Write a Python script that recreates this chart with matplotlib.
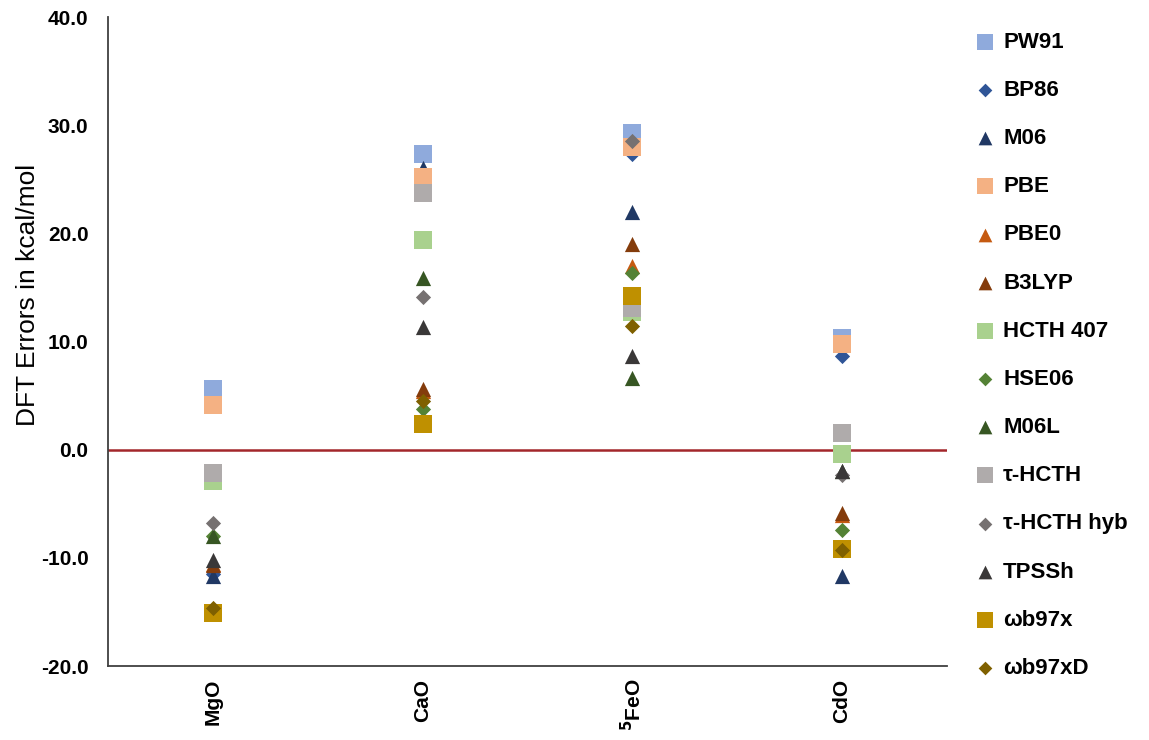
import matplotlib.pyplot as plt
import numpy as np

plt.rcParams['font.family'] = ['Liberation Sans', 'DejaVu Sans']

# compounds on the x axis
compounds = ['MgO', 'CaO', '$\\mathbf{^{5}}$FeO', 'CdO']

# functionals (legend order)
methods = ['PW91', 'BP86', 'M06', 'PBE', 'PBE0', 'B3LYP', 'HCTH 407', 'HSE06',
           'M06L', 'τ-HCTH', 'τ-HCTH hyb', 'TPSSh', 'ωb97x', 'ωb97xD']
markers = ['s', 'D', '^', 's', '^', '^', 's', 'D', '^', 's', 'D', '^', 's', 'D']
colors = ['#8FAADC', '#2F5597', '#203864', '#F4B183', '#C55A11', '#843C0C',
          '#A9D18E', '#548235', '#375623', '#AFABAB', '#767171', '#3A3838',
          '#BF9000', '#7F6000']

# DFT errors (kcal/mol), one value per method in the order above
mgo = [5.6, -11.5, -11.7, 4.1, -10.6, -10.7, -2.9, -8.0, -8.0, -2.2, -6.8, -10.2, -15.1, -14.6]
cao = [27.3, 25.5, 26.0, 25.2, 5.4, 5.6, 19.4, 3.8, 15.9, 23.7, 14.1, 11.3, 2.4, 4.5]
feo = [29.3, 27.3, 22.0, 28.0, 17.0, 19.0, 12.7, 16.3, 6.6, 13.1, 28.5, 8.7, 14.2, 11.4]
cdo = [10.3, 8.7, -11.7, 9.8, -6.0, -5.9, -0.4, -7.4, -2.0, 1.5, -2.3, -2.0, -9.2, -9.3]

values = np.array([mgo, cao, feo, cdo])
x = np.arange(len(compounds))

fig = plt.figure(figsize=(11.49, 7.40), dpi=100)
ax = fig.add_axes([0.094, 0.10, 0.730, 0.877])

for i, m in enumerate(methods):
    size = 150 if markers[i] == 's' else (120 if markers[i] == '^' else 60)
    ax.scatter(x, values[:, i], marker=markers[i], s=size, color=colors[i],
               linewidths=0, label=m, zorder=3 + i)

ax.axhline(0, color='#A3262B', lw=1.8, zorder=2)

ax.set_xlim(-0.5, 3.5)
ax.set_ylim(-20, 40)
yt = np.arange(-20, 41, 10)
ax.set_yticks(yt)
ax.set_yticklabels([f'{v:.1f}' for v in yt], fontsize=15, fontweight='bold')
ax.set_xticks(x)
ax.set_xticklabels(compounds, rotation=90, fontsize=15, fontweight='bold')
ax.tick_params(axis='y', length=0, pad=14)
ax.tick_params(axis='x', length=0, pad=9)
ax.set_ylabel('DFT Errors in kcal/mol', fontsize=19)
ax.yaxis.set_label_coords(-0.081, 0.572)

for s in ['top', 'right']:
    ax.spines[s].set_visible(False)
for s in ['left', 'bottom']:
    ax.spines[s].set_color('#404040')
    ax.spines[s].set_linewidth(1.3)

leg = fig.legend(loc='upper left', bbox_to_anchor=(0.830, 0.984), frameon=False,
                 prop={'size': 16, 'weight': 'bold'}, labelspacing=1.222,
                 handlelength=1.0, handletextpad=0.33, markerscale=0.9,
                 scatterpoints=1)

fig.savefig('out.png', dpi=100)
